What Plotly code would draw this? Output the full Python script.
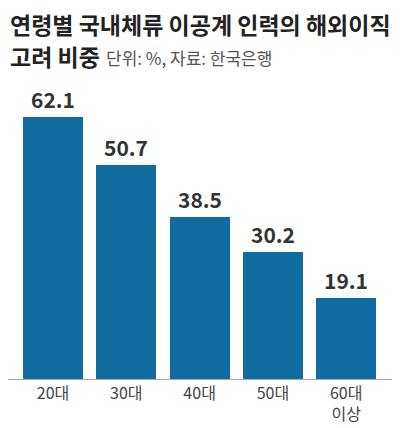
import plotly.graph_objects as go

# Data
age_groups = ["20대", "30대", "40대", "50대", "60대<br>이상"]
share = [62.1, 50.7, 38.5, 30.2, 19.1]

bar_color = "#106ba0"
kr_font = "Noto Sans CJK KR"

# the page body adds an 8px margin, so the figure is drawn 8px in
FIG_W, FIG_H = 392, 420
OFF = 8
# plot area: reference pixel rows 100..379
PLOT_TOP, PLOT_BOTTOM = 100 - OFF, 379 - OFF
plot_h = PLOT_BOTTOM - PLOT_TOP


def py(ref_y):
    # convert a reference pixel row into paper y
    return (PLOT_BOTTOM - (ref_y - OFF)) / plot_h


def px(ref_x):
    return (ref_x - OFF) / FIG_W


fig = go.Figure()

fig.add_trace(
    go.Bar(
        x=age_groups,
        y=share,
        width=0.818,
        marker=dict(color=bar_color, line=dict(width=0)),
        text=[f"{v:.1f}" for v in share],
        textposition="outside",
        textfont=dict(size=21, color="#333333", family=kr_font, weight=700),
        cliponaxis=False,
        showlegend=False,
        hoverinfo="skip",
    )
)

# Title, two lines, bold (kept inside the figure so it is not clipped)
fig.add_annotation(
    x=px(8), y=py(24), xref="paper", yref="paper",
    xanchor="left", yanchor="middle",
    text="연령별 국내체류 이공계 인력의 해외이직",
    showarrow=False, align="left",
    font=dict(size=23, color="#222222", family=kr_font, weight=700),
)
fig.add_annotation(
    x=px(8), y=py(56), xref="paper", yref="paper",
    xanchor="left", yanchor="middle",
    text="고려 비중",
    showarrow=False, align="left",
    font=dict(size=23, color="#222222", family=kr_font, weight=700),
)

# Unit / source note next to the second title line
fig.add_annotation(
    x=px(104), y=py(57), xref="paper", yref="paper",
    xanchor="left", yanchor="middle",
    text="단위: %, 자료: 한국은행",
    showarrow=False,
    font=dict(size=17, color="#555555", family=kr_font),
)

fig.update_layout(
    width=FIG_W,
    height=FIG_H,
    margin=dict(l=0, r=0, t=PLOT_TOP, b=FIG_H - PLOT_BOTTOM, autoexpand=False),
    plot_bgcolor="white",
    paper_bgcolor="white",
    bargap=0,
    xaxis=dict(
        range=[-(53 - OFF) / 73.3, 4.734],
        showgrid=False,
        showline=True,
        linecolor="#aaaaaa",
        linewidth=1,
        ticks="",
        tickfont=dict(size=16, color="#444444", family=kr_font),
        fixedrange=True,
    ),
    yaxis=dict(
        range=[0, 66.1],
        showgrid=False,
        showticklabels=False,
        zeroline=False,
        fixedrange=True,
    ),
)

fig.write_html("out.html")
